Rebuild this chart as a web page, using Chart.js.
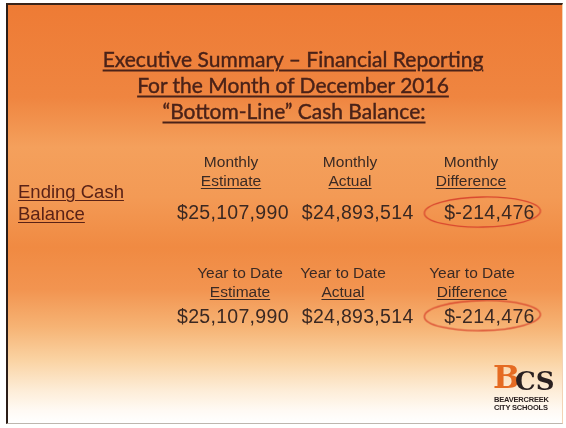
<!DOCTYPE html>
<html>
<head>
<meta charset="utf-8">
<script src="https://cdn.jsdelivr.net/npm/chart.js@4.4.1/dist/chart.umd.min.js"></script>
<style>
  html, body { margin: 0; padding: 0; background: #fff; width: 566px; height: 428px; overflow: hidden; }
  #slide {
    position: absolute; left: 6px; top: 3px; width: 557px; height: 421px; box-sizing: border-box;
    border-left: 2px solid #2b1d17; border-top: 2px solid #3a2419; border-bottom: 1px solid #bdb6ae;
    border-right: 1px solid #f3d2b4;
    background: linear-gradient(to bottom,
      #ee7b35 0%, #ef8540 22%, #f4a05c 34%, #f39a55 46%, #f08a42 58%,
      #f29450 68%, #f6b374 77%, #fad3a3 85%, #fdecd6 92%, #fffaf4 97%, #ffffff 100%);
  }
  #chart { position: absolute; left: 0; top: 0; }
  .t { position: absolute; white-space: nowrap; transform: translate(-50%, -50%); }
  .title { font-family: Lato, "Open Sans", sans-serif; font-size: 21px; color: #4a2218;
           -webkit-text-stroke: 0.4px #4a2218;
           text-decoration: underline; text-decoration-thickness: 1.6px; text-underline-offset: 3px; }
  .hd { font-family: "Liberation Sans", Arial, sans-serif; font-size: 15.5px; color: #3b2a24; }
  .u { text-decoration: underline; text-decoration-thickness: 1px; text-underline-offset: 2px; }
  .lbl { position: absolute; font-family: "Liberation Sans", Arial, sans-serif; font-size: 18.5px; color: #5a2216;
         text-decoration: underline; text-decoration-thickness: 1px; text-underline-offset: 2px; white-space: nowrap; }
  .val { position: absolute; white-space: nowrap; transform: translate(-50%, -50%);
         font-family: "Liberation Sans", Arial, sans-serif; font-size: 19.5px; letter-spacing: 0.3px; color: #3a2822; }
  #logo { position: absolute; left: 493px; top: 362px; width: 62px; height: 50px; }
  #logo .big { position: absolute; top: 0; font-family: "DejaVu Serif", serif; font-weight: bold; font-size: 32px; line-height: 30px; }
  #logo .small { position: absolute; left: 1px; font-family: "Liberation Sans Narrow", "Liberation Sans", sans-serif;
                 font-weight: bold; font-size: 7.5px; line-height: 8px; color: #2a2020; letter-spacing: -0.2px; }
</style>
</head>
<body>
<div id="slide"></div>
<canvas id="chart" width="566" height="428"></canvas>

<div class="t title" style="left:293px;top:58px">Executive Summary – Financial Reporting</div>
<div class="t title" style="left:293px;top:84px">For the Month of December 2016</div>
<div class="t title" style="left:294px;top:110px">“Bottom-Line” Cash Balance:</div>

<div class="lbl" style="left:18px;top:181px">Ending Cash</div>
<div class="lbl" style="left:18px;top:203px">Balance</div>

<div id="heads"></div>

<div id="logo">
  <span class="big" style="left:0;color:#e56b22">B</span>
  <span class="big" style="left:22px;top:4px;color:#2a2020;font-size:26px">CS</span>
  <span class="small" style="top:34px">BEAVERCREEK</span>
  <span class="small" style="top:42px">CITY SCHOOLS</span>
</div>

<script>
// ── Data ──────────────────────────────────────────────────────
const columns      = ["Estimate", "Actual", "Difference"];
const periods      = ["Monthly", "Year to Date"];
const monthlyVals  = [25107990, 24893514, -214476];
const ytdVals      = [25107990, 24893514, -214476];
const rowValues    = [monthlyVals, ytdVals];

// header text boxes (slide layout, not data)
const headPos = [
  [[231, 162], [350, 162], [471, 162]],
  [[240, 273], [343, 273], [472, 273]]
];
const DIFF_TEXT_SHIFT = 7; // the circled figure sits right of the ellipse centre

function fmt(n) { return "$" + n.toLocaleString("en-US"); }

// ── Column headers ────────────────────────────────────────────
const heads = document.getElementById("heads");
periods.forEach((p, r) => {
  columns.forEach((c, i) => {
    const [x, y] = headPos[r][i];
    heads.innerHTML +=
      `<div class="t hd" style="left:${x}px;top:${y}px">${p}</div>` +
      `<div class="t hd u" style="left:${x}px;top:${y + 19}px">${c}</div>`;
  });
});

// ── Ellipse marker for the difference column ─────────────────
function ellipseMark(w, h) {
  const c = document.createElement("canvas");
  c.width = w; c.height = h;
  const g = c.getContext("2d");
  g.strokeStyle = "#d9482f";
  g.lineWidth = 1.3;
  g.beginPath();
  g.ellipse(w / 2, h / 2, w / 2 - 2, h / 2 - 2, -0.02, 0, Math.PI * 2);
  g.stroke();
  return c;
}

const cells = [], diffs = [];
rowValues.forEach((vals, r) => {
  vals.forEach((v, i) => {
    cells.push({ x: i, y: r, v });
    if (columns[i] === "Difference") diffs.push({ x: i, y: r });
  });
});

// ── Place value text at the scale positions ──────────────────
const valueLabels = {
  id: "valueLabels",
  afterDraw(chart) {
    document.querySelectorAll(".val").forEach(el => el.remove());
    const meta = chart.getDatasetMeta(0);
    meta.data.forEach((pt, k) => {
      const d = document.createElement("div");
      d.className = "val";
      d.textContent = fmt(cells[k].v);
      const shift = columns[cells[k].x] === "Difference" ? DIFF_TEXT_SHIFT : 0;
      d.style.left = (pt.x + shift) + "px";
      d.style.top = pt.y + "px";
      document.body.appendChild(d);
    });
  }
};

new Chart(document.getElementById("chart"), {
  type: "scatter",
  data: {
    datasets: [
      { label: "values", data: cells, pointRadius: 0, pointHoverRadius: 0 },
      { label: "difference", data: diffs, pointRadius: 3, pointStyle: ellipseMark(120, 34) }
    ]
  },
  options: {
    responsive: false, animation: false, devicePixelRatio: 1,
    layout: { padding: 0 },
    events: [],
    plugins: { legend: { display: false }, tooltip: { enabled: false } },
    scales: {
      x: { type: "linear", display: false, min: -1.827, max: 2.630 },
      y: { type: "linear", display: false, reverse: true, min: -2.0, max: 2.038 }
    }
  },
  plugins: [valueLabels]
});
</script>
</body>
</html>
